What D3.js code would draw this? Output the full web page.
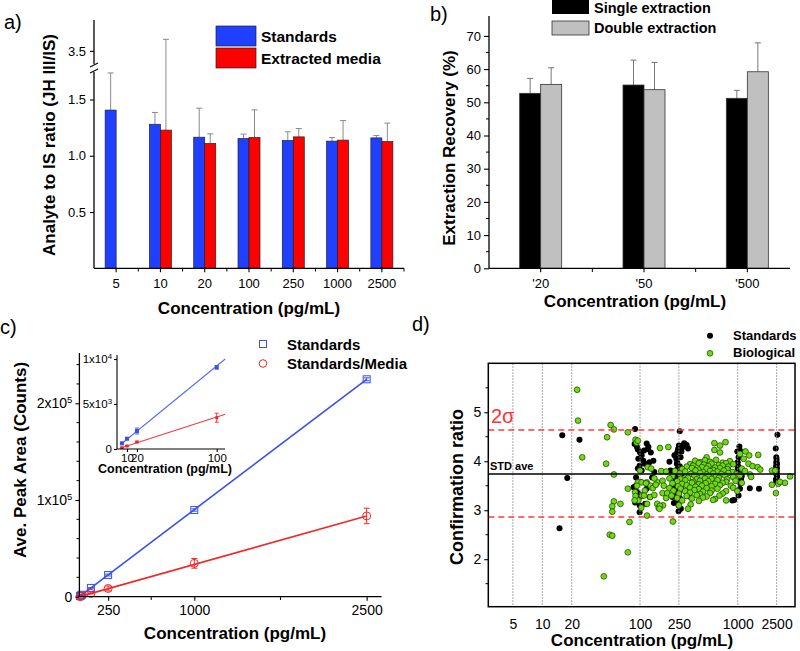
<!DOCTYPE html>
<html><head><meta charset="utf-8">
<script src="https://cdn.jsdelivr.net/npm/d3@7"></script>
<style>body{margin:0;background:#fff}svg{display:block}</style>
</head><body>
<svg id="chart" width="800" height="651"></svg>
<script>
// ---------------- DATA ----------------
// Panel a
const aCategories = ["5","10","20","100","250","1000","2500"];
const aStandards    = [1.406,1.28,1.165,1.153,1.135,1.13,1.159];
const aStandardsErr = [0.33,0.105,0.258,0.039,0.078,0.032,0.021];
const aMedia        = [null,1.228,1.109,1.162,1.168,1.139,1.126];
const aMediaErr     = [null,2.44,0.086,0.246,0.074,0.174,0.164];
const aTicksLow = [0.5,1.0,1.5];
const aTicksHigh = [3.5];
// Panel b
const bCategories = ["'20","'50","'500"];
const bSingle    = [52.7,55.2,51.2];
const bSingleErr = [4.5,7.5,2.4];
const bDouble    = [55.4,53.8,59.2];
const bDoubleErr = [5.0,8.2,8.7];
const bTicks = [0,10,20,30,40,50,60,70];
// Panel c
const cConc       = [5,10,20,100,250,1000,2500];
const cStandards  = [633,1144,2000,9078,22400,89700,224800];
const cStdErr     = [80,120,330,250,1000,1200,1500];
const cMedia      = [150,333,778,3478,8500,34500,83500];
const cMediaErr   = [60,80,120,500,2500,5000,8000];
const cStdFit   = [[3,445],[2500,224800]];
const cMediaFit = [[3,80],[2500,83500]];
const cInsetStdFit   = [[3,445],[108.5,10000]];
const cInsetMediaFit = [[3,80],[108.5,3850]];
const cXTicks = [250,1000,2500];
const cXMinor = [625,1750];
const cInsetConc = [5,10,20,100];
const cInsetXTicks = [10,20,100];
// Panel d
const dXTicks = [5,10,20,100,250,1000,2500];
const dYTicks = [2,3,4,5];
const dYMinor = [1.5,2.5,3.5,4.5,5.5];
const dStdAve = 3.74;
const dSigma = [4.64,2.86];
const dStandards = [
 [16,4.53],[24,4.44],[18,3.66],[15,2.63],
 [89,4.66],[91,4.40],[88,4.35],[93,4.29],[95,4.24],[100,4.18],[104,4.12],[110,4.22],[117,4.36],[122,4.29],[129,4.18],[137,4.01],[108,4.01],[96,4.05],[125,3.98],[99,3.91],[104,3.81],[140,3.78],[133,3.67],[91,3.67],[102,3.57],[86,3.47],[91,3.50],[117,3.44],[93,3.37],[97,3.33],[99,3.27],[126,3.27],[89,3.16],[113,3.13],[99,3.10],[99,2.96],[95,3.85],[112,3.95],[120,4.25],
 [255,4.61],[250,4.32],[275,4.32],[290,4.32],[283,4.37],[300,4.33],[310,4.26],[270,4.28],[245,4.25],[265,4.20],[240,4.18],[225,4.12],[260,4.08],[235,4.05],[200,3.99],[240,3.98],[238,3.95],[255,3.90],[250,3.81],[205,3.81],[268,3.75],[245,3.72],[240,3.67],[258,3.62],[230,3.60],[250,3.55],[258,3.55],[235,3.52],[215,3.50],[262,3.45],[230,3.44],[245,3.40],[252,3.37],[230,3.35],[240,3.30],[215,3.27],[255,3.25],[240,3.20],[250,3.16],[222,3.15],[248,3.10],[262,3.03],[248,2.98],[320,3.28],[242,3.85],[252,3.48],[236,3.42],[246,3.33],[258,3.22],
 [1040,4.30],[990,4.20],[1054,4.22],[1020,4.08],[1000,3.98],[1010,3.90],[1000,3.85],[1030,3.75],[1100,3.70],[1080,3.64],[1060,3.55],[1054,3.44],[1020,3.30],[920,3.21],[880,3.20],[1650,3.44],[1330,3.45],
 [2550,4.54],[2450,4.26],[2480,4.08],[2500,4.03],[2480,3.98],[2520,3.95],[2500,3.94],[2470,3.90],[2520,3.86],[2490,3.82],[2510,3.78],[2480,3.74],[2530,3.70],[2500,3.66],[2460,3.62],[2500,3.58]
];
const dBiological = [
 [22.7,5.46],[23.2,4.83],[25.6,4.08],[50,4.74],[54,4.65],[46,4.49],[45,3.95],[54,3.73],[54,3.18],[52,3.08],[52,2.97],[49,2.50],[52,2.48],[42.6,1.65],[75,4.59],[63,3.13],[75,3.44],[78,2.76],[75,2.14],
 [90,4.44],[92,4.38],[95,4.42],[100,3.81],[120,3.88],[95,3.57],[104,3.57],[117,3.57],[128,3.50],[93,3.50],[89,3.37],[112,3.40],[127,3.27],[96,3.20],[105,3.30],[118,3.13],[150,3.13],[118,2.89],[103,3.05],[160,4.27],[195,4.29],[150,3.57],[165,3.80],[170,3.35],[172,3.10],[217,2.77],[185,3.25],[155,3.05],[140,3.65],[130,3.85],[135,3.45],[110,3.30],[145,3.52],[115,3.55],[140,3.31],[90,3.29],[88,3.20],[160,3.09],[158,3.03],[185,3.79],
 [577,4.37],[658,4.32],[750,4.39],[577,4.23],[658,4.18],[480,4.08],[1620,4.13],[1310,4.12],[1054,4.15],[1200,4.20],[1150,4.05],
 [366,4.01],[411,3.98],[463,4.02],[520,3.99],[600,4.03],[700,3.97],[830,4.00],
 [325,3.94],[400,3.96],[450,3.93],[540,3.95],[640,3.92],[760,3.96],[900,3.94],[1290,3.95],
 [300,3.89],[350,3.91],[430,3.88],[500,3.90],[586,3.87],[700,3.91],[800,3.89],[1420,3.90],[1600,3.88],
 [270,3.84],[340,3.86],[395,3.83],[480,3.85],[560,3.82],[658,3.86],[780,3.84],[1100,3.85],[1700,3.83],
 [228,3.80],[290,3.79],[370,3.81],[440,3.78],[520,3.80],[620,3.79],[720,3.81],[880,3.78],[1186,3.80],
 [255,3.75],[330,3.74],[411,3.76],[480,3.73],[560,3.75],[680,3.74],[800,3.76],[960,3.73],
 [215,3.70],[300,3.69],[360,3.71],[430,3.68],[500,3.70],[600,3.69],[740,3.71],[900,3.68],[1054,3.71],[1334,3.73],
 [200,3.65],[260,3.64],[310,3.66],[380,3.63],[463,3.65],[540,3.64],[640,3.66],[780,3.63],[1370,3.68],
 [170,3.60],[240,3.59],[290,3.61],[350,3.58],[411,3.60],[500,3.59],[620,3.61],[760,3.58],[950,3.60],
 [215,3.55],[270,3.54],[340,3.56],[400,3.53],[470,3.55],[586,3.54],[700,3.56],[1100,3.56],
 [175,3.50],[245,3.49],[300,3.51],[370,3.48],[430,3.50],[540,3.49],[658,3.51],[850,3.50],
 [200,3.45],[260,3.44],[325,3.46],[400,3.43],[480,3.45],[620,3.44],[900,3.46],
 [220,3.40],[290,3.39],[360,3.41],[440,3.38],[540,3.40],[760,3.39],[990,3.39],
 [190,3.35],[250,3.34],[325,3.36],[411,3.33],[520,3.35],[700,3.34],
 [210,3.30],[300,3.29],[380,3.31],[480,3.28],[650,3.30],
 [240,3.25],[340,3.24],[440,3.26],[586,3.23],
 [270,3.20],[400,3.19],[560,3.21],[760,3.20],
 [250,3.10],[330,3.12],[310,3.03],
 [2236,3.81],[2420,3.81],[3430,3.69],[2236,3.52],[2600,3.54],[3040,3.56],[2460,3.35],[2700,3.58]
];

// ---------------- DRAW ----------------
const FONT = "'Liberation Sans', Arial, sans-serif";
const svg = d3.select("#chart");
svg.append("rect").attr("width",800).attr("height",651).attr("fill","#fff");

function txt(x,y,s,opt={}){
  const t = svg.append("text").attr("x",x).attr("y",y).text(s)
    .attr("font-family",FONT).attr("font-size",opt.size||13)
    .attr("font-weight",opt.bold?"bold":"normal").attr("fill",opt.fill||"#000")
    .attr("text-anchor",opt.anchor||"start");
  if(opt.rotate){ t.attr("transform",`rotate(-90,${x},${y})`); }
  return t;
}
function styleAxis(g,fs){
  g.selectAll("path.domain").attr("stroke","#000").attr("stroke-width",1.3);
  g.selectAll(".tick line").attr("stroke","#000").attr("stroke-width",1.1);
  g.selectAll(".tick text").attr("font-family",FONT).attr("font-size",fs||13).attr("fill","#000");
}
function hline(x1,x2,y,stroke,w,dash){
  const l = svg.append("line").attr("x1",x1).attr("x2",x2).attr("y1",y).attr("y2",y)
   .attr("stroke",stroke).attr("stroke-width",w);
  if(dash) l.attr("stroke-dasharray",dash);
  return l;
}
function vline(x,y1,y2,stroke,w,dash){
  const l = svg.append("line").attr("x1",x).attr("x2",x).attr("y1",y1).attr("y2",y2)
   .attr("stroke",stroke).attr("stroke-width",w);
  if(dash) l.attr("stroke-dasharray",dash);
  return l;
}

// ===== Panel a =====
const aX = d3.scaleBand().domain(aCategories).range([94,404]);
const aYLow = d3.scaleLinear().domain([0,1.78]).range([268.3,68]);
const aYHigh = d3.scaleLinear().domain([3.25,3.95]).range([68,20]);
const aY = v => v <= 1.78 ? aYLow(v) : aYHigh(v);
const aBarW = 11;
const aG = svg.append("g");
aCategories.forEach((c,i)=>{
  const cx = aX(c) + aX.bandwidth()/2;
  const series = [[aStandards[i],aStandardsErr[i],"#2040ff",cx-aBarW],[aMedia[i],aMediaErr[i],"#ff0000",cx]];
  series.forEach(([v,e,col,x0])=>{
    if(v==null) return;
    const xm = x0 + aBarW/2;
    aG.append("line").attr("x1",xm).attr("x2",xm).attr("y1",aY(v)).attr("y2",aY(v+e)).attr("stroke","#8a8a8a").attr("stroke-width",1);
    aG.append("line").attr("x1",xm-3).attr("x2",xm+3).attr("y1",aY(v+e)).attr("y2",aY(v+e)).attr("stroke","#8a8a8a").attr("stroke-width",1);
    aG.append("rect").attr("x",x0).attr("y",aY(v)).attr("width",aBarW).attr("height",aY(0)-aY(v))
      .attr("fill",col).attr("stroke","#222").attr("stroke-width",0.7);
  });
});
const aYAxisLow = svg.append("g").attr("transform","translate(94,0)")
  .call(d3.axisLeft(aYLow).tickValues(aTicksLow).tickFormat(d3.format(".1f")).tickSize(4).tickPadding(4));
aYAxisLow.select(".domain").remove(); styleAxis(aYAxisLow,13);
const aYAxisHigh = svg.append("g").attr("transform","translate(94,0)")
  .call(d3.axisLeft(aYHigh).tickValues(aTicksHigh).tickFormat(d3.format(".1f")).tickSize(4).tickPadding(4));
aYAxisHigh.select(".domain").remove(); styleAxis(aYAxisHigh,13);
vline(94,268.3,72,"#000",1.3); vline(94,64,20,"#000",1.3);
svg.append("line").attr("x1",90).attr("y1",67).attr("x2",98).attr("y2",63).attr("stroke","#000").attr("stroke-width",1.1);
svg.append("line").attr("x1",90).attr("y1",73).attr("x2",98).attr("y2",69).attr("stroke","#000").attr("stroke-width",1.1);
const aXAxis = svg.append("g").attr("transform","translate(0,268.3)")
  .call(d3.axisBottom(aX).tickSize(4).tickPadding(6));
aXAxis.select(".domain").remove(); styleAxis(aXAxis,13);
hline(94,404,268.3,"#000",1.3);
aCategories.forEach(c=>vline(aX(c)+aX.bandwidth(),268.3,271.5,"#000",1));
svg.append("rect").attr("x",216).attr("y",26).attr("width",40).attr("height",20).attr("fill","#2040ff").attr("stroke","#222").attr("stroke-width",0.7);
svg.append("rect").attr("x",216).attr("y",48).attr("width",40).attr("height",20).attr("fill","#ff0000").attr("stroke","#222").attr("stroke-width",0.7);
txt(261,42,"Standards",{bold:true,size:15.5});
txt(261,64,"Extracted media",{bold:true,size:15.5});
txt(49,145,"Analyte to IS ratio (JH III/IS)",{bold:true,size:17,anchor:"middle",rotate:true}).attr("dy","0.35em");
txt(249,314,"Concentration (pg/mL)",{bold:true,size:17,anchor:"middle"});
txt(4,29,"a)",{size:20});

// ===== Panel b =====
const bX = d3.scaleBand().domain(bCategories).range([489,799]);
const bY = d3.scaleLinear().domain([0,75]).range([268.3,19.3]);
const bBarW = 21;
const bG = svg.append("g");
bCategories.forEach((c,i)=>{
  const cx = bX(c) + bX.bandwidth()/2;
  [[bSingle[i],bSingleErr[i],"#000",cx-bBarW],[bDouble[i],bDoubleErr[i],"#c0c0c0",cx]].forEach(([v,e,col,x0])=>{
    const xm = x0 + bBarW/2;
    bG.append("line").attr("x1",xm).attr("x2",xm).attr("y1",bY(v)).attr("y2",bY(v+e)).attr("stroke","#777").attr("stroke-width",1);
    bG.append("line").attr("x1",xm-3).attr("x2",xm+3).attr("y1",bY(v+e)).attr("y2",bY(v+e)).attr("stroke","#777").attr("stroke-width",1);
    bG.append("rect").attr("x",x0).attr("y",bY(v)).attr("width",bBarW).attr("height",bY(0)-bY(v))
      .attr("fill",col).attr("stroke","#333").attr("stroke-width",0.8);
  });
});
const bYAxis = svg.append("g").attr("transform","translate(489,0)")
  .call(d3.axisLeft(bY).tickValues(bTicks).tickSize(5).tickPadding(3).tickSizeOuter(0));
bYAxis.select(".domain").remove(); styleAxis(bYAxis,13);
vline(489,268.3,16,"#000",1.3);
[5,15,25,35,45,55,65].forEach(t=>hline(486,489,bY(t),"#000",1));
const bXAxis = svg.append("g").attr("transform","translate(0,268.3)")
  .call(d3.axisBottom(bX).tickSize(4).tickPadding(6));
bXAxis.select(".domain").remove(); styleAxis(bXAxis,13);
hline(489,790,268.3,"#000",1.3);
bCategories.slice(0,2).forEach(c=>vline(bX(c)+bX.bandwidth(),268.3,272,"#000",1));
svg.append("rect").attr("x",552).attr("y",-2).attr("width",37).attr("height",16).attr("fill","#000");
svg.append("rect").attr("x",552).attr("y",21).attr("width",37).attr("height",14).attr("fill","#c0c0c0").attr("stroke","#333").attr("stroke-width",0.8);
txt(594,12.5,"Single extraction",{bold:true,size:14.5});
txt(594,33,"Double extraction",{bold:true,size:14.5});
txt(449,148,"Extraction Recovery (%)",{bold:true,size:17,anchor:"middle",rotate:true}).attr("dy","0.35em");
txt(635,307,"Concentration (pg/mL)",{bold:true,size:17,anchor:"middle"});
txt(430,21,"b)",{size:20});

// ===== Panel c =====
const cX = d3.scaleLinear().domain([0,2630]).range([79.4,381.6]);
const cY = d3.scaleLinear().domain([0,252000]).range([596.7,353]);
const cG = svg.append("g");
const lineGen = (sx,sy)=>d3.line().x(d=>sx(d[0])).y(d=>sy(d[1]));
cG.append("path").datum(cStdFit).attr("d",lineGen(cX,cY)).attr("stroke","#3a50e8").attr("stroke-width",1.6).attr("fill","none");
cG.append("path").datum(cMediaFit).attr("d",lineGen(cX,cY)).attr("stroke","#f02828").attr("stroke-width",1.6).attr("fill","none");
function errBars(g,sx,sy,xs,ys,es,col,cap){
  xs.forEach((x,i)=>{
    const px=sx(x), y1=sy(ys[i]-es[i]), y2=sy(ys[i]+es[i]);
    g.append("line").attr("x1",px).attr("x2",px).attr("y1",y1).attr("y2",y2).attr("stroke",col).attr("stroke-width",1);
    [y1,y2].forEach(y=>g.append("line").attr("x1",px-cap).attr("x2",px+cap).attr("y1",y).attr("y2",y).attr("stroke",col).attr("stroke-width",1));
  });
}
errBars(cG,cX,cY,cConc,cStandards,cStdErr,"#3a50e8",3);
errBars(cG,cX,cY,cConc,cMedia,cMediaErr,"#f02828",3);
cConc.forEach((x,i)=>{
  cG.append("rect").attr("x",cX(x)-3.5).attr("y",cY(cStandards[i])-3.5).attr("width",7).attr("height",7)
    .attr("fill","none").attr("stroke","#3a50e8").attr("stroke-width",1);
  cG.append("circle").attr("cx",cX(x)).attr("cy",cY(cMedia[i])).attr("r",4)
    .attr("fill","none").attr("stroke","#f02828").attr("stroke-width",1);
});
const supFmt = (g, labels) => {
  g.selectAll(".tick text").each(function(d){
    const t = d3.select(this); t.text(null);
    const lab = labels(d);
    t.append("tspan").text(lab[0]);
    if(lab[1]) t.append("tspan").text(lab[1]).attr("font-size","0.68em").attr("dy","-0.55em");
  });
};
const cYAxis = svg.append("g").attr("transform","translate(79.4,0)")
  .call(d3.axisLeft(cY).tickValues([0,100000,200000]).tickSize(4).tickPadding(3));
cYAxis.select(".domain").remove(); styleAxis(cYAxis,14);
supFmt(cYAxis, d => d===0 ? ["0"] : [(d/100000)+"x10","5"]);
vline(79.4,596.7,353,"#000",1.3);
d3.range(20000,252000,20000).filter(v=>v%100000!==0).forEach(v=>hline(76.5,79.4,cY(v),"#000",1));
const cXAxis = svg.append("g").attr("transform","translate(0,596.7)")
  .call(d3.axisBottom(cX).tickValues(cXTicks).tickFormat(d3.format("d")).tickSize(4).tickPadding(4));
cXAxis.select(".domain").remove(); styleAxis(cXAxis,14);
hline(79.4,381.6,596.7,"#000",1.3);
cXMinor.forEach(v=>vline(cX(v),596.7,600,"#000",1));
// inset
const ciX = d3.scaleLinear().domain([0,108]).range([117,224.7]);
const ciY = d3.scaleLinear().domain([0,10400]).range([449,355.4]);
const ciG = svg.append("g");
ciG.append("path").datum(cInsetStdFit).attr("d",lineGen(ciX,ciY)).attr("stroke","#5a6cf0").attr("stroke-width",1.1).attr("fill","none");
ciG.append("path").datum(cInsetMediaFit).attr("d",lineGen(ciX,ciY)).attr("stroke","#f03a3a").attr("stroke-width",1.1).attr("fill","none");
errBars(ciG,ciX,ciY,cInsetConc,cStandards.slice(0,4),[60,100,330,200],"#5a6cf0",2);
errBars(ciG,ciX,ciY,cInsetConc,cMedia.slice(0,4),[40,60,80,500],"#f03a3a",2);
cInsetConc.forEach((x,i)=>{
  ciG.append("rect").attr("x",ciX(x)-2).attr("y",ciY(cStandards[i])-2).attr("width",4).attr("height",4).attr("fill","#3a50e8");
  ciG.append("rect").attr("x",ciX(x)-1.5).attr("y",ciY(cMedia[i])-1.5).attr("width",3).attr("height",3).attr("fill","#f02828");
});
const ciYAxis = svg.append("g").attr("transform","translate(117,0)")
  .call(d3.axisLeft(ciY).tickValues([0,5000,10000]).tickSize(3).tickPadding(2));
ciYAxis.select(".domain").remove(); styleAxis(ciYAxis,11.5);
supFmt(ciYAxis, d => d===0 ? ["0"] : d===5000 ? ["5x10","3"] : ["1x10","4"]);
vline(117,449,355,"#000",1.1);
const ciXAxis = svg.append("g").attr("transform","translate(0,449)")
  .call(d3.axisBottom(ciX).tickValues(cInsetXTicks).tickSize(3).tickPadding(2));
ciXAxis.select(".domain").remove(); styleAxis(ciXAxis,11.5);
hline(117,225,449,"#000",1.1);
txt(165,473,"Concentration (pg/mL)",{bold:true,size:12.5,anchor:"middle"});
svg.append("rect").attr("x",259.5).attr("y",340.5).attr("width",7).attr("height",7).attr("fill","none").attr("stroke","#3a50e8").attr("stroke-width",1);
svg.append("circle").attr("cx",263).attr("cy",363.5).attr("r",3.8).attr("fill","none").attr("stroke","#f02828").attr("stroke-width",1);
txt(287,350,"Standards",{bold:true,size:15});
txt(287,369,"Standards/Media",{bold:true,size:15});
txt(20,460,"Ave. Peak Area (Counts)",{bold:true,size:17,anchor:"middle",rotate:true}).attr("dy","0.35em");
txt(235,639,"Concentration (pg/mL)",{bold:true,size:17,anchor:"middle"});
txt(0,334,"c)",{size:20});

// ===== Panel d =====
const dX = d3.scaleLog().domain([2.8,3855]).range([488.3,795]);
const dY = d3.scaleLinear().domain([1.03,6.0]).range([606.7,363.3]);
const dG = svg.append("g");
dXTicks.forEach(t=>vline(dX(t),363.3,606.7,"#8c8c8c",1,"1.5,1.5"));
hline(488.3,795,dY(dStdAve),"#000",1.5);
dSigma.forEach(s=>hline(488.3,795,dY(s),"#ff3b3b",1.5,"6,4"));
dG.selectAll("circle.std").data(dStandards).enter().append("circle")
  .attr("cx",d=>dX(d[0])).attr("cy",d=>dY(d[1])).attr("r",3).attr("fill","#000");
dG.selectAll("circle.bio").data(dBiological).enter().append("circle")
  .attr("cx",d=>dX(d[0])).attr("cy",d=>dY(d[1])).attr("r",2.9).attr("fill","#6cdc10").attr("stroke","#1d3a00").attr("stroke-width",0.7);
svg.append("rect").attr("x",488.3).attr("y",363.3).attr("width",306.7).attr("height",243.4).attr("fill","none").attr("stroke","#000").attr("stroke-width",1.5);
const dYAxis = svg.append("g").attr("transform","translate(488.3,0)")
  .call(d3.axisLeft(dY).tickValues(dYTicks).tickFormat(d3.format("d")).tickSize(4).tickPadding(3));
dYAxis.select(".domain").remove(); styleAxis(dYAxis,14);
dYMinor.forEach(v=>hline(485.5,488.3,dY(v),"#000",1));
const dXAxis = svg.append("g").attr("transform","translate(0,606.7)")
  .call(d3.axisBottom(dX).tickValues(dXTicks).tickFormat(d3.format("d")).tickSize(0).tickPadding(12));
dXAxis.select(".domain").remove(); styleAxis(dXAxis,14);
txt(491,423,"2σ",{size:20,fill:"#ff3030"});
txt(490,470,"STD ave",{bold:true,size:11});
svg.append("circle").attr("cx",710).attr("cy",335.7).attr("r",3).attr("fill","#000");
svg.append("circle").attr("cx",710).attr("cy",353.3).attr("r",2.9).attr("fill","#6cdc10").attr("stroke","#1d3a00").attr("stroke-width",0.7);
txt(733,340,"Standards",{bold:true,size:13});
txt(733,357,"Biological",{bold:true,size:13});
txt(457,487,"Confirmation ratio",{bold:true,size:18,anchor:"middle",rotate:true}).attr("dy","0.35em");
txt(642,646,"Concentration (pg/mL)",{bold:true,size:17,anchor:"middle"});
txt(412,331,"d)",{size:20});
</script>
</body></html>
